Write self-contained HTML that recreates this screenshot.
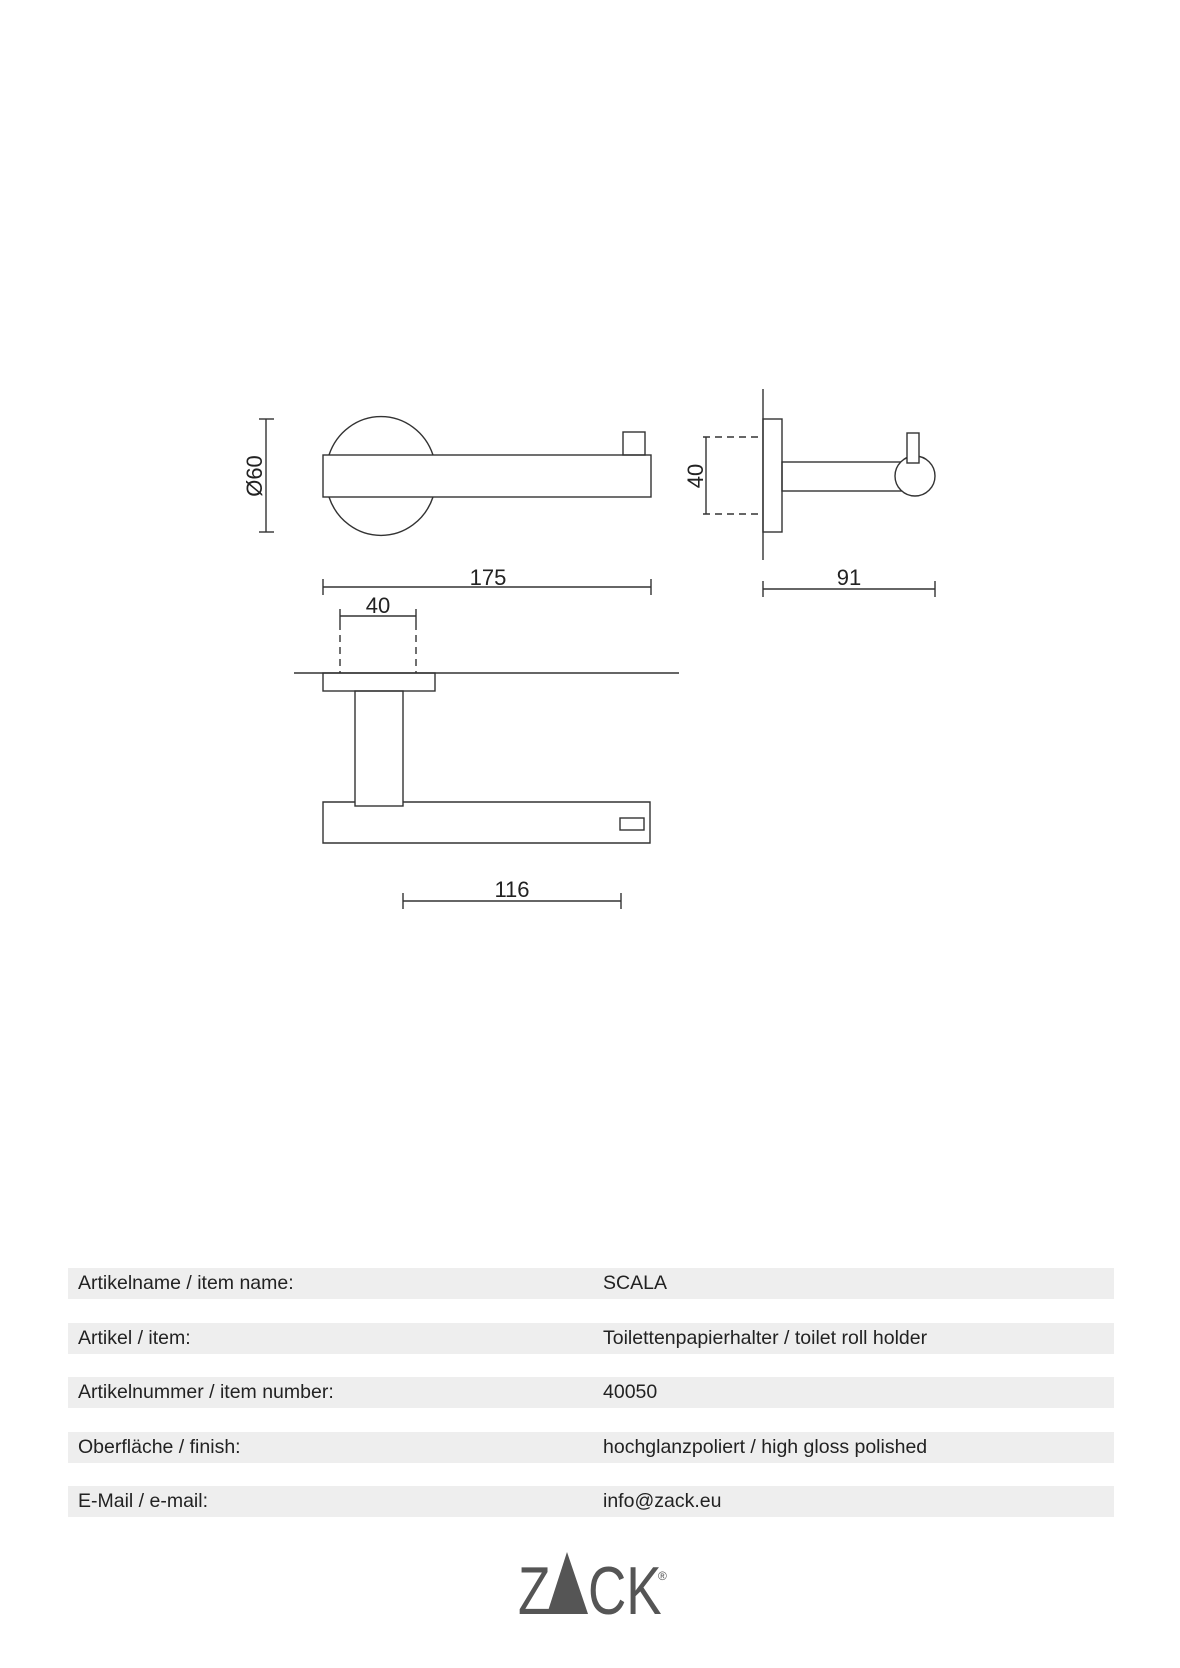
<!DOCTYPE html>
<html><head><meta charset="utf-8"><style>
body{margin:0;background:#fff;width:1180px;height:1668px;position:relative;overflow:hidden;font-family:"Liberation Sans",sans-serif;}
.row{position:absolute;left:68px;width:1046px;height:31px;background:#eeeeee;font-size:19.5px;color:#222;line-height:31px;}
.row span{position:absolute;top:0}
.row .a{left:10px}.row .b{left:535px}
</style></head><body>
<svg width="1180" height="1668" style="position:absolute;left:0;top:0" font-family="Liberation Sans, sans-serif" fill="none" stroke="#333" stroke-width="1.4">
<path d="M329,455 A55,57 0 0 1 433,455 M329,497 A55,57 0 0 0 433,497"/>
<rect x="323" y="455" width="328" height="42"/>
<rect x="623" y="432" width="22" height="23"/>
<line x1="266" y1="419" x2="266" y2="532"/><line x1="259" y1="419" x2="274" y2="419"/><line x1="259" y1="532" x2="274" y2="532"/>
<text transform="translate(262,476) rotate(-90)" text-anchor="middle" font-size="22" fill="#222" stroke="none">Ø60</text>
<line x1="763" y1="389" x2="763" y2="560"/>
<rect x="763" y="419" width="19" height="113"/>
<rect x="782" y="462" width="122" height="29"/>
<circle cx="915" cy="476" r="20" fill="#fff"/>
<rect x="907" y="433" width="12" height="30" fill="#fff"/>
<path d="M703,437 H763 M703,514 H763" stroke-dasharray="7,5"/>
<line x1="706" y1="437" x2="706" y2="514"/>
<text transform="translate(703,476) rotate(-90)" text-anchor="middle" font-size="22" fill="#222" stroke="none">40</text>
<line x1="763" y1="589" x2="935" y2="589"/><line x1="763" y1="581" x2="763" y2="597"/><line x1="935" y1="581" x2="935" y2="597"/>
<text x="849" y="585" text-anchor="middle" font-size="22" fill="#222" stroke="none">91</text>
<line x1="323" y1="587" x2="651" y2="587"/><line x1="323" y1="579" x2="323" y2="595"/><line x1="651" y1="579" x2="651" y2="595"/>
<text x="488" y="585" text-anchor="middle" font-size="22" fill="#222" stroke="none">175</text>
<line x1="340" y1="616" x2="416" y2="616"/><line x1="340" y1="609" x2="340" y2="623"/><line x1="416" y1="609" x2="416" y2="623"/>
<text x="378" y="613" text-anchor="middle" font-size="22" fill="#222" stroke="none">40</text>
<path d="M340,623 V673 M416,623 V673" stroke-dasharray="7,5"/>
<line x1="294" y1="673" x2="679" y2="673"/>
<rect x="323" y="673" width="112" height="18"/>
<rect x="355" y="691" width="48" height="115"/>
<path d="M355,802 H323 V843 H650 V802 H403"/>
<rect x="620" y="818" width="24" height="12"/>
<line x1="403" y1="901" x2="621" y2="901"/><line x1="403" y1="893" x2="403" y2="909"/><line x1="621" y1="893" x2="621" y2="909"/>
<text x="512" y="897" text-anchor="middle" font-size="22" fill="#222" stroke="none">116</text>
<g fill="#555" stroke="none">
<text x="518" y="1614" font-size="68" transform="translate(518,0) scale(0.78,1) translate(-518,0)">Z</text>
<polygon points="567,1552 547,1614 588,1614"/>
<text x="588" y="1614" font-size="68" transform="translate(588,0) scale(0.78,1) translate(-588,0)">CK</text>
<text x="658" y="1580" font-size="12">®</text>
</g>
</svg>
<div class="row" style="top:1268px"><span class="a">Artikelname / item name:</span><span class="b">SCALA</span></div>
<div class="row" style="top:1323px"><span class="a">Artikel / item:</span><span class="b">Toilettenpapierhalter / toilet roll holder</span></div>
<div class="row" style="top:1377px"><span class="a">Artikelnummer / item number:</span><span class="b">40050</span></div>
<div class="row" style="top:1432px"><span class="a">Oberfläche / finish:</span><span class="b">hochglanzpoliert / high gloss polished</span></div>
<div class="row" style="top:1486px"><span class="a">E-Mail / e-mail:</span><span class="b">info@zack.eu</span></div>
</body></html>
